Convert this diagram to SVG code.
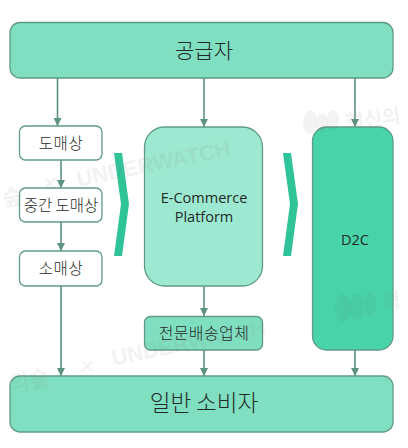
<svg xmlns="http://www.w3.org/2000/svg" width="408" height="448" viewBox="0 0 408 448">
<style>
text{font-family:"Noto Sans CJK KR","Noto Sans",sans-serif;fill:#1f2a28;text-anchor:middle}
.n{stroke:#5f9a88;stroke-width:1.3}
.big{fill:#7fdfc0}
.w{fill:#fff}
.c{stroke:#5c9280;stroke-width:1.6;fill:none;marker-end:url(#a)}
.ch{fill:#2fc498}
.wm{fill:#8a8a8a;opacity:.1;font-weight:700;font-size:22px;font-family:"Liberation Sans","Noto Sans CJK KR",sans-serif}
.tree{fill:#6a6a6a;opacity:.08}
.lat{font-family:"Open Sans","Noto Sans",sans-serif;font-size:14.500px}
.s{font-size:15.500px;font-weight:300}
.l{font-weight:300}
</style>
<defs><marker id="a" markerUnits="userSpaceOnUse" markerWidth="9" markerHeight="8" refX="8" refY="4" orient="auto"><path d="M0 0L8 4L0 8Z" fill="#5c9280"/></marker></defs>
<rect width="408" height="448" fill="#fff"/>
<g id="connectors">
<path class="c" d="M57.500 78V126"/>
<path class="c" d="M61 160V188"/>
<path class="c" d="M61 222V251"/>
<path class="c" d="M61 286V376"/>
<path class="c" d="M204 78V127"/>
<path class="c" d="M355 78V127"/>
<path class="c" d="M204 286V316"/>
<path class="c" d="M204 350V376"/>
<path class="c" d="M355 350V376"/>
</g>
<g id="supplier"><rect class="n big" x="10" y="22.500" width="383" height="55.500" rx="10"/><text class="l" x="204" y="58" font-size="21">공급자</text></g>
<g id="wholesale"><rect class="n w" x="19.500" y="126" width="82.500" height="34" rx="6"/><text class="s" x="61" y="148.500" letter-spacing=".5">도매상</text></g>
<g id="middle"><rect class="n w" x="19.500" y="188" width="82.500" height="34" rx="6"/><text class="s" x="61" y="210.500">중간 도매상</text></g>
<g id="retail"><rect class="n w" x="19.500" y="251" width="82.500" height="35" rx="6"/><text class="s" x="61" y="273.500" letter-spacing=".5">소매상</text></g>
<g id="chevron-left"><path class="ch" d="M114 153H122L129 204L122 256H114L121 204Z"/></g>
<g id="chevron-right"><path class="ch" d="M283 153H291L298 204L291 256H283L290 204Z"/></g>
<g id="ecommerce"><rect class="n" fill="#9de8d0" x="144.500" y="127" width="118" height="159" rx="20"/><text class="lat" x="204" y="203">E-Commerce</text><text class="lat" x="204" y="222">Platform</text></g>
<g id="d2c"><rect class="n" fill="#48d3a8" x="312.500" y="127" width="80.500" height="223" rx="14"/><text class="lat" x="355" y="245">D2C</text></g>
<g id="logistics"><rect class="n big" x="144.500" y="316.500" width="118" height="33.500" rx="6"/><text class="s" x="204" y="338.500" style="font-size:16px" letter-spacing=".4">전문배송업체</text></g>
<g id="consumer"><rect class="n big" x="10" y="376" width="383" height="56" rx="10"/><text class="l" x="204" y="411" font-size="22.500">일반 소비자</text></g>
<g id="watermark">
<text class="wm" transform="rotate(-11.500 155 171)" x="155" y="171">UNDERWATCH</text>
<text class="wm" transform="rotate(-11.500 190 350)" x="190" y="350">UNDERWATCH</text>
<text class="wm" transform="rotate(-11 14 205)" x="14" y="205">숲</text>
<text class="wm" transform="rotate(-11 31 388)" x="31" y="388">의숲</text>
<text class="wm" x="50" y="192" style="font-size:26px;font-weight:400">×</text>
<text class="wm" x="87" y="375" style="font-size:26px;font-weight:400">×</text>
<text class="wm" transform="rotate(-8 374 126)" x="374" y="126" style="font-size:20px">혁신의</text>
<text class="wm" transform="rotate(-8 392 308)" x="392" y="308" style="font-size:20px">혁</text>
<ellipse class="tree" cx="310" cy="122" rx="7" ry="12"/><ellipse class="tree" cx="322" cy="123" rx="6" ry="10"/><ellipse class="tree" cx="333" cy="120" rx="6" ry="10"/>
<ellipse class="tree" cx="343" cy="308" rx="8" ry="14"/><ellipse class="tree" cx="357" cy="307" rx="7" ry="13"/><ellipse class="tree" cx="370" cy="304" rx="6" ry="12"/>
</g>
</svg>
